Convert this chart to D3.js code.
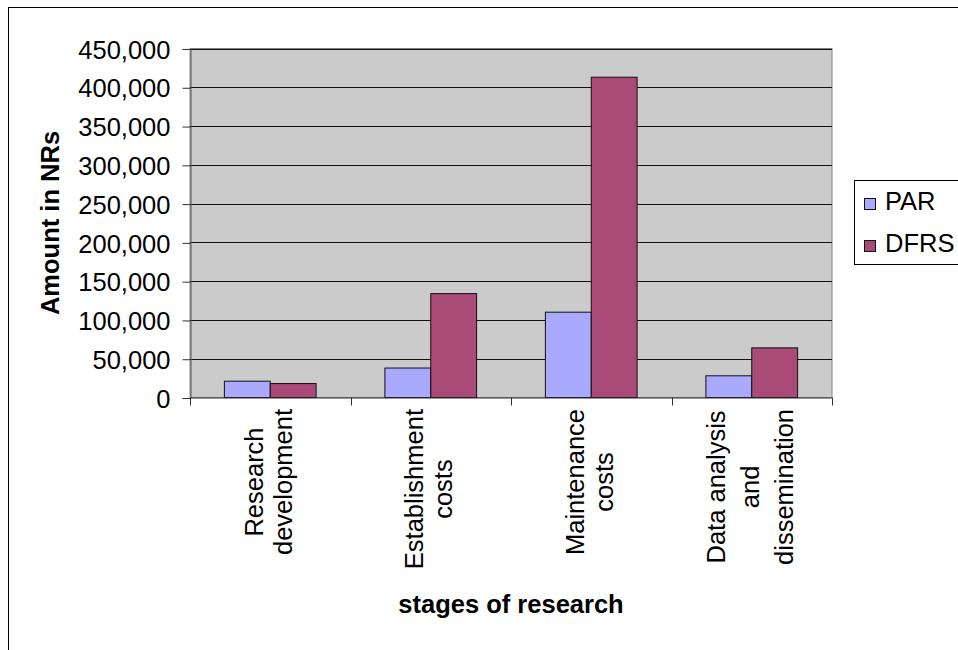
<!DOCTYPE html>
<html>
<head>
<meta charset="utf-8">
<script src="https://cdn.jsdelivr.net/npm/d3@7"></script>
<style>
  html, body { margin: 0; padding: 0; background: #fff; }
  svg { display: block; font-family: "Liberation Sans", Arial, sans-serif; }
</style>
</head>
<body>
<svg id="chart" width="958" height="650"></svg>
<script>
const categories = [
  ["Research", "development"],
  ["Establishment", "costs"],
  ["Maintenance", "costs"],
  ["Data analysis", "and", "dissemination"]
];
const seriesNames = ["PAR", "DFRS"];
const parValues = [21000, 38000, 110000, 28000];
const dfrsValues = [18000, 134000, 413000, 64000];
const yTicks = [0, 50000, 100000, 150000, 200000, 250000, 300000, 350000, 400000, 450000];
const colors = ["#A9A9FF", "#A94A77"];

const svg = d3.select("#chart");
const W = 958, H = 650;
const plot = { left: 190, right: 832, top: 48.5, bottom: 397.5 };
const fontSize = 25.5;

// outer chart border
svg.append("rect")
  .attr("x", 8.5).attr("y", 7.5)
  .attr("width", W + 20).attr("height", H + 20)
  .attr("fill", "#fff").attr("stroke", "#000").attr("stroke-width", 1);

const catIdx = categories.map((d, i) => i);
const x0 = d3.scaleBand().domain(catIdx).range([plot.left, plot.right]).paddingInner(0).paddingOuter(0);
const gapRatio = 1.5;
const barW = x0.bandwidth() / (2 + gapRatio);
const x1 = d3.scaleBand().domain(seriesNames)
  .range([barW * gapRatio / 2, barW * gapRatio / 2 + 2 * barW]).padding(0);
const y = d3.scaleLinear().domain([0, 450000]).range([plot.bottom, plot.top]);

// plot background
svg.append("rect")
  .attr("x", plot.left).attr("y", plot.top)
  .attr("width", plot.right - plot.left).attr("height", plot.bottom - plot.top)
  .attr("fill", "#CBCBCB").attr("stroke", "#808080").attr("stroke-width", 1);

// gridlines
svg.append("g").selectAll("line")
  .data(yTicks.filter(t => t > 0))
  .join("line")
  .attr("x1", plot.left).attr("x2", plot.right)
  .attr("y1", d => Math.round(y(d)) + 0.5).attr("y2", d => Math.round(y(d)) + 0.5)
  .attr("stroke", "#111").attr("stroke-width", 1);

// bars
const data = catIdx.map(i => ({ i, vals: [parValues[i], dfrsValues[i]] }));
const groups = svg.append("g").selectAll("g")
  .data(data).join("g")
  .attr("transform", d => `translate(${x0(d.i)},0)`);
groups.selectAll("rect")
  .data(d => d.vals.map((v, k) => ({ v, k })))
  .join("rect")
  .attr("x", d => x1(seriesNames[d.k]))
  .attr("y", d => y(d.v))
  .attr("width", x1.bandwidth())
  .attr("height", d => y(0) - y(d.v))
  .attr("fill", d => colors[d.k])
  .attr("stroke", "#111").attr("stroke-width", 1);

// y axis
const yAxis = d3.axisLeft(y).tickValues(yTicks).tickSize(8).tickPadding(12)
  .tickFormat(d3.format(","));
const yg = svg.append("g").attr("transform", `translate(${plot.left + 0.5},0.5)`).call(yAxis);
yg.select(".domain").attr("stroke", "#555");
yg.selectAll(".tick line").attr("stroke", "#333");
yg.selectAll(".tick text")
  .attr("font-size", fontSize).attr("fill", "#000")
  .attr("font-family", "'Liberation Sans', Arial, sans-serif")
  .attr("dy", "0.36em");

// x axis line + ticks at category boundaries
const xg = svg.append("g");
xg.append("line")
  .attr("x1", plot.left).attr("x2", plot.right)
  .attr("y1", plot.bottom + 0.5).attr("y2", plot.bottom + 0.5)
  .attr("stroke", "#333");
const boundaries = catIdx.map(i => x0(i)).concat([plot.right]);
xg.selectAll("line.tk").data(boundaries).join("line").attr("class", "tk")
  .attr("x1", d => Math.round(d) + 0.5).attr("x2", d => Math.round(d) + 0.5)
  .attr("y1", plot.bottom).attr("y2", plot.bottom + 8)
  .attr("stroke", "#333");

// category labels (rotated)
const labelTop = 409;
const measure = svg.append("text").attr("font-size", fontSize).attr("visibility", "hidden");
categories.forEach((lines, i) => {
  const widths = lines.map(l => { measure.text(l); return measure.node().getComputedTextLength(); });
  const maxW = d3.max(widths);
  const cx = x0(i) + x0.bandwidth() / 2;
  const n = lines.length;
  const lineH = n > 2 ? 34 : 29;
  const g = svg.append("g")
    .attr("transform", `translate(${cx},${labelTop}) rotate(-90)`);
  lines.forEach((l, k) => {
    g.append("text")
      .attr("x", -maxW / 2)
      .attr("y", (k - (n - 1) / 2) * lineH - 2)
      .attr("dy", "0.36em")
      .attr("text-anchor", "middle")
      .attr("font-size", fontSize)
      .attr("fill", "#000")
      .text(l);
  });
});
measure.remove();

// axis titles
svg.append("text")
  .attr("transform", `translate(59,${(plot.top + plot.bottom) / 2}) rotate(-90)`)
  .attr("text-anchor", "middle")
  .attr("font-size", fontSize).attr("font-weight", "bold")
  .text("Amount in NRs");
svg.append("text")
  .attr("x", (plot.left + plot.right) / 2).attr("y", 613)
  .attr("text-anchor", "middle")
  .attr("font-size", fontSize).attr("font-weight", "bold")
  .text("stages of research");

// legend
const lg = svg.append("g");
lg.append("rect")
  .attr("x", 854.5).attr("y", 180.5).attr("width", 120).attr("height", 84)
  .attr("fill", "#fff").attr("stroke", "#000");
seriesNames.forEach((s, k) => {
  const yy = 198 + k * 42;
  lg.append("rect")
    .attr("x", 864.5).attr("y", yy + 0.5).attr("width", 11).attr("height", 11)
    .attr("fill", colors[k]).attr("stroke", "#111");
  lg.append("text")
    .attr("x", 885).attr("y", yy + 12)
    .attr("font-size", fontSize).attr("fill", "#000")
    .text(s);
});
</script>
</body>
</html>
